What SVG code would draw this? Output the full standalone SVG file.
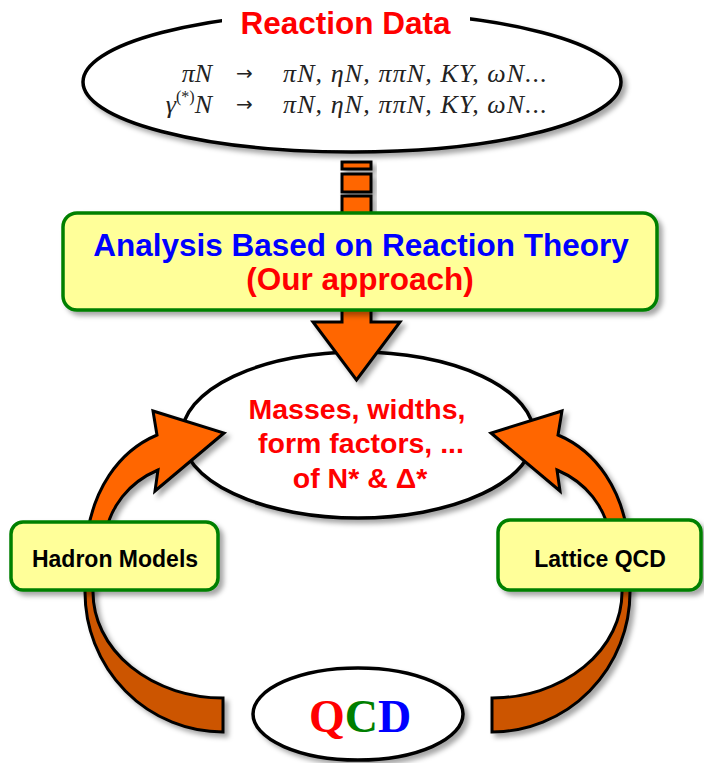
<svg xmlns="http://www.w3.org/2000/svg" width="704" height="763" viewBox="0 0 704 763">
<style>
.ol{stroke:#000;stroke-width:3;stroke-linejoin:miter}
.org{fill:#FF6600}
.dorg{fill:#CC5500}
.box{fill:#FFFF99;stroke:#008000;stroke-width:3.5}
.ell{fill:#fff;stroke:#000;stroke-width:3.5}
.sans{font-family:"Liberation Sans",Arial,sans-serif;font-weight:bold}
.math{font-family:"Liberation Serif","Times New Roman",serif;font-style:italic;font-size:26px;fill:#222}
.arr{font-family:"DejaVu Sans",sans-serif;font-size:20px;fill:#222}
</style>
<defs>
<filter id="sh" x="-20%" y="-20%" width="140%" height="140%">
<feDropShadow dx="4" dy="4" stdDeviation="2.5" flood-color="#000" flood-opacity="0.35"/>
</filter>
</defs>
<rect width="704" height="763" fill="#fff"/>

<g id="reaction-data">
<ellipse class="ell" cx="352" cy="82" rx="269" ry="70" filter="url(#sh)"/>
<rect x="222" y="2" width="248" height="34" fill="#fff"/>
<text class="sans" x="345.5" y="34" font-size="31.5" fill="#FF0000" text-anchor="middle">Reaction Data</text>
<text class="math" x="212" y="82" text-anchor="end">πN</text>
<text class="arr" x="244.5" y="80" text-anchor="middle">→</text>
<text class="math" x="283" y="82" textLength="264" lengthAdjust="spacing">πN, ηN, ππN, KY, ωN...</text>
<text class="math" x="212" y="113" text-anchor="end">γ<tspan font-style="normal" font-size="16" dy="-11">(*)</tspan><tspan dy="11">N</tspan></text>
<text class="arr" x="244.5" y="111" text-anchor="middle">→</text>
<text class="math" x="283" y="113" textLength="264" lengthAdjust="spacing">πN, ηN, ππN, KY, ωN...</text>
</g>

<g id="results">
<ellipse class="ell" cx="358" cy="435" rx="176" ry="83" filter="url(#sh)"/>
<g class="sans" font-size="28.5" fill="#FF0000" text-anchor="middle">
<text x="357" y="419">Masses, widths,</text>
<text x="361" y="453">form factors, ...</text>
<text x="360" y="488">of N* &amp; Δ*</text>
</g>
</g>

<g id="connectors">
<g filter="url(#sh)">
<rect class="org ol" x="342" y="162" width="29" height="7"/>
<rect class="org ol" x="342" y="174" width="29" height="18"/>
<rect class="org ol" x="342" y="196" width="29" height="30"/>
</g>
<path class="org ol" filter="url(#sh)" d="M342 300 L342 322 L313 322 L356.5 380 L400 322 L371 322 L371 300 Z"/>
<g filter="url(#sh)">
<path class="org ol" d="M86 545 C91 490 119 451 157 435 L153 411 L224 433 L155 491 L158 470 C132 481 107 505 104 545 Z"/>
<path class="dorg ol" d="M85 580 L85 592 A138 140 0 0 0 223 732 L223 698 A130 106 0 0 1 93 592 L93 580 Z"/>
</g>
<g filter="url(#sh)">
<g transform="translate(715,0) scale(-1,1)">
<path class="org ol" d="M86 545 C91 490 119 451 157 435 L153 411 L224 433 L155 491 L158 470 C132 481 107 505 104 545 Z"/>
<path class="dorg ol" d="M85 580 L85 592 A138 140 0 0 0 223 732 L223 698 A130 106 0 0 1 93 592 L93 580 Z"/>
</g>
</g>
</g>

<g id="analysis">
<rect class="box" x="63" y="213" width="594" height="97" rx="14" filter="url(#sh)"/>
<text class="sans" x="361" y="256" font-size="31.5" fill="#0000FF" text-anchor="middle">Analysis Based on Reaction Theory</text>
<text class="sans" x="360" y="290" font-size="31.5" fill="#FF0000" text-anchor="middle">(Our approach)</text>
</g>

<g id="hadron-models">
<rect class="box" x="11" y="522" width="207" height="68" rx="12" filter="url(#sh)"/>
<text class="sans" x="115" y="567" font-size="23" fill="#000" text-anchor="middle">Hadron Models</text>
</g>

<g id="lattice-qcd">
<rect class="box" x="498" y="520" width="203" height="70" rx="12" filter="url(#sh)"/>
<text class="sans" x="600" y="567" font-size="23" fill="#000" text-anchor="middle">Lattice QCD</text>
</g>

<g id="qcd">
<ellipse class="ell" cx="358" cy="714" rx="105" ry="46" filter="url(#sh)"/>
<text x="360" y="732" font-family="'Liberation Serif','Times New Roman',serif" font-weight="bold" font-size="46" text-anchor="middle"><tspan fill="#FF0000">Q</tspan><tspan fill="#007F00">C</tspan><tspan fill="#0000FF">D</tspan></text>
</g>
</svg>
